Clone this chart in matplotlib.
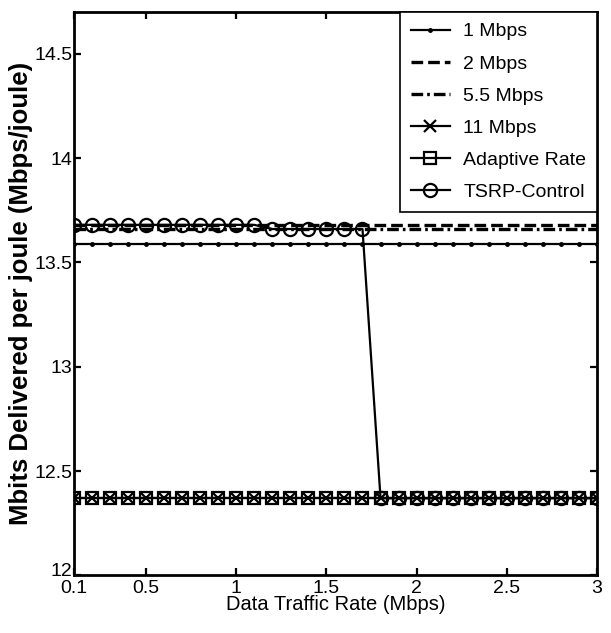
import numpy as np
import matplotlib
matplotlib.use("Agg")
import matplotlib.pyplot as plt
import matplotlib.transforms as mtransforms

plt.rcParams['font.family'] = ['Liberation Sans', 'DejaVu Sans']

# Data traffic rate (Mbps), 0.1 .. 3.0
rate = [0.1, 0.2, 0.3, 0.4, 0.5, 0.6, 0.7, 0.8, 0.9, 1.0,
        1.1, 1.2, 1.3, 1.4, 1.5, 1.6, 1.7, 1.8, 1.9, 2.0,
        2.1, 2.2, 2.3, 2.4, 2.5, 2.6, 2.7, 2.8, 2.9, 3.0]

# Mbits delivered per joule
mbps_1 = [13.59] * 30
mbps_2 = [13.68] * 30
mbps_55 = [13.66] * 30
mbps_11 = [12.37] * 30
adaptive = [12.37] * 30
tsrp = [13.68] * 11 + [13.66] * 6 + [12.37] * 13

labels = ['1 Mbps', '2 Mbps', '5.5 Mbps', '11 Mbps', 'Adaptive Rate', 'TSRP-Control']

fig = plt.figure(figsize=(6.11, 6.33), dpi=100)
ax = fig.add_axes([0.121, 0.091, 0.856, 0.890])

ax.plot(rate, mbps_1, '-', color='black', lw=1.6, marker='.', ms=5, label=labels[0])
ax.plot(rate, mbps_2, '--', color='black', lw=2.4, dashes=(3.5, 1.5), label=labels[1])
ax.plot(rate, mbps_55, '-.', color='black', lw=2.4, dashes=(3.5, 1.2, 0.8, 1.2), label=labels[2])
ax.plot(rate, mbps_11, '-', color='black', lw=1.6, marker='x', ms=8, mew=1.6, label=labels[3])
ax.plot(rate, adaptive, '-', color='black', lw=1.6, marker='s', ms=8.5, mfc='none', mew=1.6, label=labels[4])
ax.plot(rate, tsrp, '-', color='black', lw=1.6, marker='o', ms=9.5, mfc='none', mew=1.6, label=labels[5])

ax.set_xlim(0.1, 3)
ax.set_ylim(12, 14.7)
ax.set_xticks([0.1, 0.5, 1, 1.5, 2, 2.5, 3])
ax.set_xticklabels(['0.1', '0.5', '1', '1.5', '2', '2.5', '3'])
ax.set_yticks([12, 12.5, 13, 13.5, 14, 14.5])
ax.set_yticklabels(['12', '12.5', '13', '13.5', '14', '14.5'])

ax.tick_params(direction='in', length=5, width=1.6, labelsize=14, pad=1,
               top=True, right=True)
ax.tick_params(axis='x', pad=3)
for side in ax.spines.values():
    side.set_linewidth(2)

# nudge the "12" label up a little so it sits just above "0.1"
lift = mtransforms.ScaledTranslation(0, 4 / 72, fig.dpi_scale_trans)
lab12 = ax.get_yticklabels()[0]
lab12.set_transform(lab12.get_transform() + lift)

ax.set_xlabel('Data Traffic Rate (Mbps)', fontsize=14.5, labelpad=-1)
ax.set_ylabel('Mbits Delivered per joule (Mbps/joule)', fontsize=18.5,
              fontweight='bold', labelpad=1)

leg = ax.legend(loc='upper right', borderaxespad=0, fontsize=14,
                fancybox=False, framealpha=1, edgecolor='black',
                handlelength=2.0, handletextpad=0.7, labelspacing=0.75,
                borderpad=0.55)
leg.get_frame().set_linewidth(1.2)

fig.savefig('out.png', dpi=100)
